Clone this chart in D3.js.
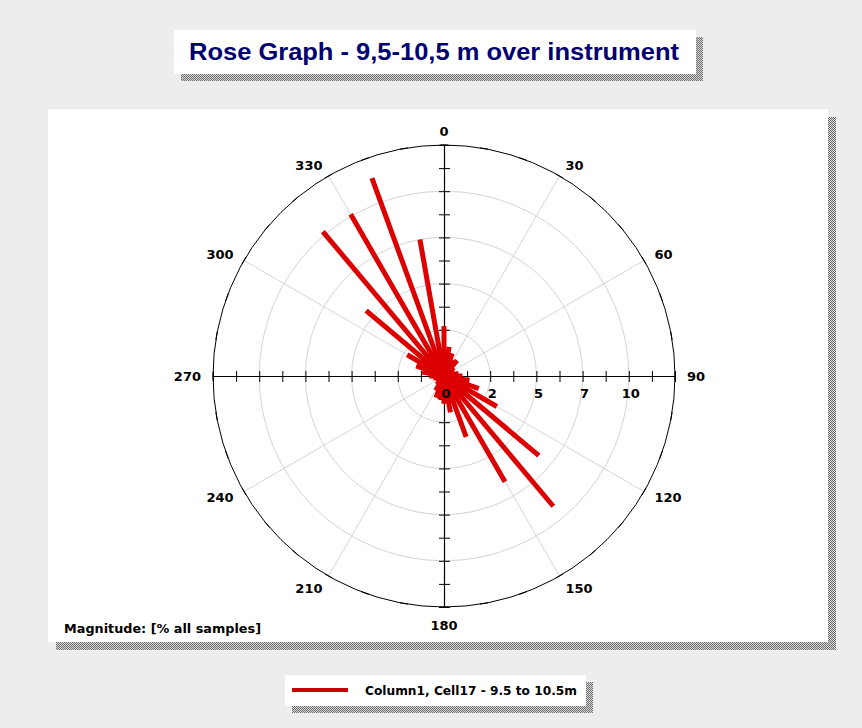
<!DOCTYPE html>
<html>
<head>
<meta charset="utf-8">
<script src="https://cdn.jsdelivr.net/npm/d3@7"></script>
<style>
  html, body { margin: 0; padding: 0; background: #ededed; }
  svg { display: block; }
  text { font-family: "DejaVu Sans", Verdana, sans-serif; font-weight: bold; }
  text.title { font-family: "Liberation Sans", Arial, sans-serif; }
</style>
</head>
<body>
<svg id="chart" width="862" height="728"></svg>
<script>
// Direction bins (degrees, clockwise from north) and share of samples (%)
const directions = [0, 10, 20, 30, 40, 50, 60, 70, 80, 90, 100, 110,
                    120, 130, 140, 150, 160, 170, 180, 190, 200, 210, 220, 230,
                    240, 250, 260, 270, 280, 290, 300, 310, 320, 330, 340, 350];
const magnitudes = [2.7, 1.6, 1.3, 1.0, 1.1, 0.7, 0.6, 0.6, 0.8, 1.0, 1.4, 2.0,
                    3.3, 6.7, 9.2, 6.6, 3.5, 2.0, 1.5, 1.3, 1.25, 0.9, 0.6, 0.5,
                    0.5, 0.5, 0.6, 0.8, 1.2, 1.6, 2.3, 5.5, 10.2, 10.1, 11.4, 7.5];

// Radial axis
const radialMax = 12.5;
const radialTickValues = [0, 2.5, 5, 7.5, 10];
const radialTickLabels = ["0", "2", "5", "7", "10"];
const radialMinorStep = 1.25;

// Compass labels
const compassLabelAngles = [0, 30, 60, 90, 120, 150, 180, 210, 240, 270, 300, 330];
const compassLabels = ["0", "30", "60", "90", "120", "150", "180", "210", "240", "270", "300", "330"];
const compassMinorStep = 10;

const titleText = "Rose Graph - 9,5-10,5 m over instrument";
const legendText = "Column1, Cell17 - 9.5 to 10.5m";
const magnitudeText = "Magnitude: [% all samples]";

const svg = d3.select("#chart");
const roseColor = "#dc0000";

// Dithered shadow pattern
const defs = svg.append("defs");
const pat = defs.append("pattern").attr("id", "dither")
  .attr("width", 2).attr("height", 2).attr("patternUnits", "userSpaceOnUse");
pat.append("rect").attr("width", 2).attr("height", 2).attr("fill", "#d8d8d8");
pat.append("rect").attr("x", 0).attr("y", 0).attr("width", 1).attr("height", 1).attr("fill", "#6e6e6e");
pat.append("rect").attr("x", 1).attr("y", 1).attr("width", 1).attr("height", 1).attr("fill", "#6e6e6e");

function shadowBox(x, y, w, h, off) {
  svg.append("rect").attr("x", x + off).attr("y", y + off).attr("width", w).attr("height", h)
    .attr("fill", "url(#dither)");
  svg.append("rect").attr("x", x).attr("y", y).attr("width", w).attr("height", h)
    .attr("fill", "#ffffff");
}

// Title box
shadowBox(174, 30, 522, 44, 7);
svg.append("text").attr("class", "title").attr("x", 189).attr("y", 60)
  .attr("font-size", 23).attr("fill", "#000070")
  .attr("textLength", 490).attr("lengthAdjust", "spacingAndGlyphs")
  .text(titleText);

// Plot panel
shadowBox(48, 109, 780, 533, 8);

// Polar geometry
const cx = 444, cy = 376, R = 231;
const r = d3.scaleLinear().domain([0, radialMax]).range([0, R]);
const rad = d => d * Math.PI / 180;
const px = (deg, rr) => cx + rr * Math.sin(rad(deg));
const py = (deg, rr) => cy - rr * Math.cos(rad(deg));

const g = svg.append("g");

// Grid circles
g.selectAll("circle.grid").data(radialTickValues.filter(v => v > 0)).join("circle")
  .attr("class", "grid").attr("cx", cx).attr("cy", cy).attr("r", d => r(d))
  .attr("fill", "none").attr("stroke", "#d4d4d4").attr("stroke-width", 1);

// Radial grid lines every 30 degrees
g.selectAll("line.spoke").data(compassLabelAngles.filter(a => a % 90 !== 0)).join("line")
  .attr("class", "spoke")
  .attr("x1", cx).attr("y1", cy)
  .attr("x2", d => px(d, R)).attr("y2", d => py(d, R))
  .attr("stroke", "#d4d4d4").attr("stroke-width", 1);

// Outer circle
g.append("circle").attr("cx", cx).attr("cy", cy).attr("r", R)
  .attr("fill", "none").attr("stroke", "#000").attr("stroke-width", 1);

// Compass ticks on the outer circle
const compassTicks = d3.range(0, 360, compassMinorStep);
g.selectAll("line.ctick").data(compassTicks).join("line")
  .attr("class", "ctick")
  .attr("x1", d => px(d, R) - 4 * Math.cos(rad(d)))
  .attr("y1", d => py(d, R) - 4 * Math.sin(rad(d)))
  .attr("x2", d => px(d, R) + 4 * Math.cos(rad(d)))
  .attr("y2", d => py(d, R) + 4 * Math.sin(rad(d)))
  .attr("stroke", "#000").attr("stroke-width", 1);

// Cross axes
g.append("line").attr("x1", cx - R).attr("x2", cx + R).attr("y1", cy + 0.5).attr("y2", cy + 0.5)
  .attr("stroke", "#000").attr("stroke-width", 1.2);
g.append("line").attr("y1", cy - R).attr("y2", cy + R).attr("x1", cx + 0.5).attr("x2", cx + 0.5)
  .attr("stroke", "#000").attr("stroke-width", 1.2);

const minorVals = d3.range(radialMinorStep, radialMax + 0.001, radialMinorStep);
[1, -1].forEach(s => {
  g.selectAll(null).data(minorVals).join("line")
    .attr("x1", d => cx + s * r(d) + 0.5).attr("x2", d => cx + s * r(d) + 0.5)
    .attr("y1", cy - 5).attr("y2", cy + 6)
    .attr("stroke", "#000").attr("stroke-width", 1);
  g.selectAll(null).data(minorVals).join("line")
    .attr("y1", d => cy + s * r(d) + 0.5).attr("y2", d => cy + s * r(d) + 0.5)
    .attr("x1", cx - 5).attr("x2", cx + 6)
    .attr("stroke", "#000").attr("stroke-width", 1);
});

// Rose rays
g.selectAll("line.ray").data(directions).join("line")
  .attr("class", "ray")
  .attr("x1", cx).attr("y1", cy)
  .attr("x2", (d, i) => px(d, r(magnitudes[i])))
  .attr("y2", (d, i) => py(d, r(magnitudes[i])))
  .attr("stroke", roseColor).attr("stroke-width", 5).attr("stroke-linecap", "butt");

// Radial tick labels
g.selectAll("text.rlab").data(radialTickValues).join("text")
  .attr("class", "rlab")
  .attr("x", d => cx + r(d) + 2).attr("y", cy + 22)
  .attr("text-anchor", "middle").attr("font-size", 13).attr("fill", "#000")
  .text((d, i) => radialTickLabels[i]);

// Compass labels
g.selectAll("text.clab").data(compassLabelAngles).join("text")
  .attr("class", "clab")
  .each(function(d, i) {
    const s = Math.sin(rad(d)), c = Math.cos(rad(d));
    const rr = R + 12;
    const x = px(d, rr), y = py(d, rr);
    let anchor = "middle";
    if (s > 0.1) anchor = "start"; else if (s < -0.1) anchor = "end";
    let dy = 4.5;
    if (c > 0.9) dy = 3; else if (c < -0.9) dy = 11;
    else if (c < -0.7) dy = 6.5;
    d3.select(this).attr("x", x).attr("y", y + dy)
      .attr("text-anchor", anchor).attr("font-size", 13).attr("fill", "#000")
      .text(compassLabels[i]);
  });

// Magnitude note
svg.append("text").attr("x", 64).attr("y", 633).attr("font-size", 12).attr("fill", "#000")
  .attr("textLength", 197).attr("lengthAdjust", "spacingAndGlyphs")
  .text(magnitudeText);

// Legend
shadowBox(285, 675, 301, 31, 7);
svg.append("line").attr("x1", 292).attr("x2", 348).attr("y1", 690).attr("y2", 690)
  .attr("stroke", "#c80000").attr("stroke-width", 4);
svg.append("text").attr("x", 365).attr("y", 695).attr("font-size", 12).attr("fill", "#000")
  .attr("textLength", 212).attr("lengthAdjust", "spacingAndGlyphs")
  .text(legendText);
</script>
</body>
</html>
